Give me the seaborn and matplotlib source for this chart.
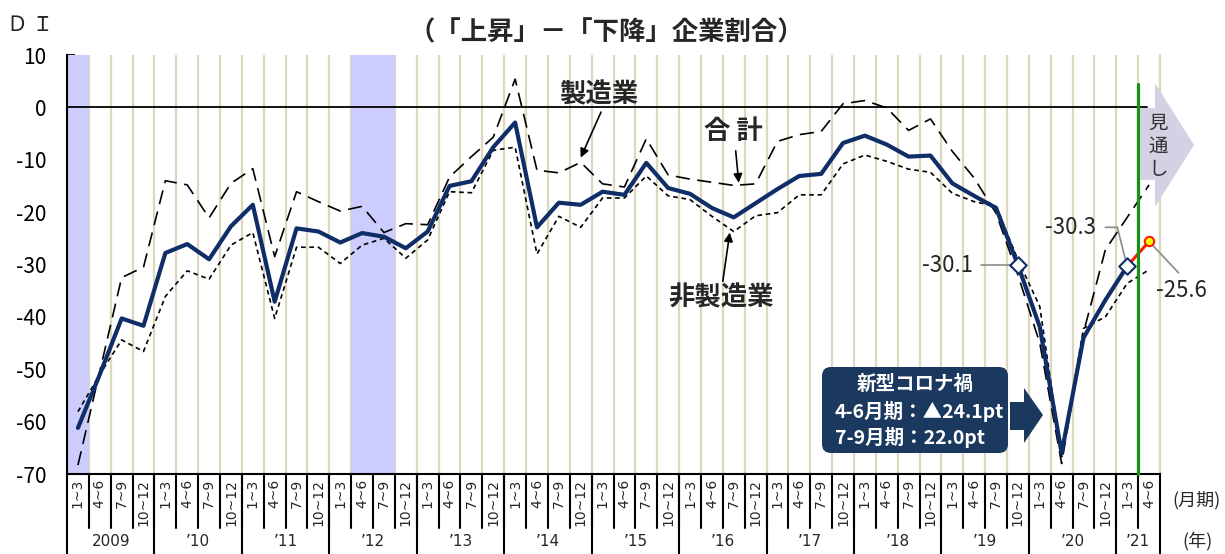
import numpy as np
import pandas as pd
import matplotlib
matplotlib.use("Agg")
import matplotlib.pyplot as plt
import seaborn as sns
from matplotlib.patches import FancyBboxPatch, Polygon
from matplotlib.transforms import IdentityTransform

# ---------------- data ----------------
years = ["2009", "’10", "’11", "’12", "’13", "’14", "’15", "’16", "’17", "’18", "’19", "’20", "’21"]
quarters = ["1~3", "4~6", "7~9", "10~12"]

total = [-61.2, -51.0, -40.3, -41.7, -27.8, -26.1, -29.0, -22.7, -18.6, -37.1,
         -23.1, -23.7, -25.8, -24.0, -24.7, -26.9, -23.7, -15.0, -14.1, -7.6,
         -2.9, -22.9, -18.2, -18.6, -16.1, -16.7, -10.6, -15.4, -16.5, -19.2,
         -21.0, -18.3, -15.6, -13.1, -12.7, -6.8, -5.4, -7.1, -9.4, -9.2,
         -14.5, -16.9, -19.2, -30.1, -41.9, -66.0, -44.0, -36.8, -30.3]
total_forecast = [-30.3, -25.6]

manufacturing = [-68.3, -50.4, -32.5, -30.5, -14.0, -14.8, -21.1, -14.5, -11.7, -28.5,
                 -16.1, -18.0, -19.8, -18.9, -23.9, -22.2, -22.4, -13.3, -9.4, -5.7,
                 5.4, -12.0, -12.5, -10.5, -14.6, -15.2, -6.0, -12.9, -13.7, -14.3,
                 -14.9, -14.6, -6.5, -5.2, -4.6, 0.7, 1.3, -0.1, -4.4, -2.2,
                 -8.4, -13.5, -20.2, -32.0, -45.0, -68.0, -43.0, -27.2, -21.0, -14.8]

non_manufacturing = [-58.1, -51.0, -44.4, -46.6, -36.1, -31.2, -32.8, -26.3, -23.9, -40.3,
                     -26.7, -26.7, -29.8, -26.3, -25.0, -28.8, -25.3, -16.1, -16.3, -8.2,
                     -7.6, -28.0, -20.8, -22.9, -17.3, -17.3, -13.1, -16.9, -17.6, -20.8,
                     -23.7, -20.7, -20.1, -16.7, -16.7, -10.8, -9.1, -10.3, -11.8, -12.4,
                     -16.4, -18.0, -18.9, -29.1, -38.0, -66.7, -42.2, -40.0, -33.6, -31.0]

recession_quarters = [0, 13, 14]
marked_quarters = [43, 48]

# ---------------- style ----------------
sns.set_theme(style="white")
plt.rcParams['font.family'] = ['Noto Sans CJK JP', 'DejaVu Sans']
plt.rcParams['axes.unicode_minus'] = False

W, H = 1225, 554
fig = plt.figure(figsize=(W / 100, H / 100), dpi=100)
ax = fig.add_axes([67 / W, 1 - 474 / H, (1160 - 67) / W, (474 - 55) / H])

n_q = len(years) * 4 - 2
qi = np.arange(n_q)
df = pd.DataFrame({"q": qi, "mfg": manufacturing, "nonmfg": non_manufacturing})
df_tot = pd.DataFrame({"q": qi[:len(total)], "total": total})
df_fc = pd.DataFrame({"q": qi[len(total) - 1:], "fc": total_forecast})

ax.set_xlim(-0.5, n_q - 0.5)
ax.set_ylim(-70, 10)

# background grid and recession shading
for b in np.arange(0.5, n_q, 1.0):
    ax.axvline(b, color="#dcd7bf", lw=1.6, zorder=0.5)
ax.axvline(n_q - 0.5, color="#dcd7bf", lw=1.6, zorder=0.5, clip_on=False)
for r in recession_quarters:
    ax.axvspan(r - 0.5, r + 0.5, color="#ccccff", lw=0, zorder=0.6)

# zero line
ax.plot([-0.5, n_q - 1.1], [0, 0], color="black", lw=1.3, zorder=1)

# series
sns.lineplot(data=df, x="q", y="nonmfg", ax=ax, color="black", lw=1.2,
             linestyle=(0, (2.8, 2.2)), zorder=3)
sns.lineplot(data=df, x="q", y="mfg", ax=ax, color="black", lw=1.2,
             linestyle=(0, (8.5, 4.5)), zorder=3)
sns.lineplot(data=df_tot, x="q", y="total", ax=ax, color="#0f2d66", lw=3.0, zorder=4)
sns.lineplot(data=df_fc, x="q", y="fc", ax=ax, color="#ff1a00", lw=2.2, zorder=4)

# markers
ax.scatter([marked_quarters[0], marked_quarters[1]],
           [total[marked_quarters[0]], total[marked_quarters[1]]],
           marker="D", s=70, facecolor="white", edgecolor="#0f2d66", lw=1.5, zorder=6)
ax.scatter([qi[-1]], [total_forecast[-1]], marker="o", s=45, facecolor="#ffff00",
           edgecolor="#ff1a00", lw=1.5, zorder=6)

# green line
ax.plot([n_q - 1.5, n_q - 1.5], [-70, 4.5], color="#159315", lw=2.3, zorder=5, clip_on=False)

# axes style
for s in ["top", "right"]:
    ax.spines[s].set_visible(False)
for s in ["left", "bottom"]:
    ax.spines[s].set_color("black")
    ax.spines[s].set_linewidth(1.5)
ax.set_xticks([])
yt = list(range(-70, 11, 10))
ax.set_yticks(yt)
ax.set_yticklabels([str(v) for v in yt])
ax.tick_params(axis="y", direction="in", length=6, width=1.3, labelsize=15, pad=15,
               colors="black", left=True)
ax.set_xlabel("")
ax.set_ylabel("")

# x category labels
xt = ax.get_xaxis_transform()
for i in range(n_q):
    ax.text(i, -0.012, quarters[i % 4], rotation=90, ha="center", va="top",
            fontsize=10, family="DejaVu Sans", transform=xt, clip_on=False)
for b in np.arange(0.5, n_q - 0.5, 1.0):
    ax.plot([b, b], [0, -0.13], color="black", lw=1.5, transform=xt, clip_on=False)
for b in np.arange(-0.5, n_q + 0.5, 4.0).tolist() + [n_q - 0.5]:
    ax.plot([b, b], [0, -0.2], color="black", lw=1.5, transform=xt, clip_on=False)
for k, y in enumerate(years):
    c = min(k * 4 + 1.5, (k * 4 + n_q - 1) / 2)
    ax.text(c, -0.161, y, ha="center", va="center", fontsize=11,
            family="DejaVu Sans", transform=xt, clip_on=False)
fig.text(1197 / W, 1 - 500 / H, "(月期)", ha="center", va="center", fontsize=13)
fig.text(1197 / W, 1 - 541 / H, "(年)", ha="center", va="center", fontsize=13)

# titles
fig.text(606 / W, 1 - 33 / H, "（「上昇」－「下降」企業割合）", ha="center", va="center",
         fontsize=19, fontweight="bold")
fig.text(30 / W, 1 - 25 / H, "Ｄ Ｉ", ha="center", va="center", fontsize=15)

# series labels with arrows
arrow = dict(arrowstyle="-|>", color="black", lw=1.2, mutation_scale=13, shrinkA=0, shrinkB=0)
ax.text(23.84, 2.4, "製造業", ha="center", va="center", fontsize=19, fontweight="bold", zorder=7)
ax.annotate("", xy=(23.0, -9.6), xytext=(23.93, -0.9), arrowprops=arrow)
ax.text(30.0, -4.7, "合 計", ha="center", va="center", fontsize=19, fontweight="bold", zorder=7)
ax.annotate("", xy=(30.23, -14.4), xytext=(30.09, -8.3), arrowprops=arrow)
ax.text(29.41, -36.4, "非製造業", ha="center", va="center", fontsize=19, fontweight="bold", zorder=7)
ax.annotate("", xy=(29.82, -23.9), xytext=(29.5, -33.2), arrowprops=arrow)

# value labels
grey = "#8a8a8a"
ax.text(39.8, -30.1, f"{total[43]:.1f}", ha="center", va="center",
        fontsize=16, zorder=7)
ax.plot([41.3, 42.75], [-30.1, -30.1], color=grey, lw=1.2, zorder=5)
ax.text(45.4, -23.0, f"{total[48]:.1f}", ha="center", va="center", fontsize=16, zorder=7)
ax.plot([47.0, 47.55, 47.98], [-22.9, -22.9, -30.1], color=grey, lw=1.2, zorder=5)
ax.text(50.5, -35.0, f"{total_forecast[-1]:.1f}", ha="center", va="center", fontsize=16,
        zorder=7, clip_on=False)
ax.plot([49.0, 50.35], [-25.6, -31.6], color=grey, lw=1.2, zorder=5, clip_on=False)

# 見通し arrow
ident = IdentityTransform()
def P(x, y):
    return (x, H - y)
fig.add_artist(Polygon([P(1140, 108), P(1155, 108), P(1155, 83), P(1194, 145),
                        P(1155, 207), P(1155, 180), P(1140, 180)], closed=True,
                       facecolor="#d6d0e4", edgecolor="none", transform=ident, zorder=0.2))
for j, ch in enumerate("見通し"):
    fig.text(1158 / W, 1 - (123 + j * 23) / H, ch, ha="center", va="center",
             fontsize=14, color="#333333", zorder=3)

# COVID box
navy = "#1b385f"
fig.add_artist(FancyBboxPatch(P(822, 453), 186, 86, boxstyle="round,pad=0,rounding_size=9",
                              facecolor=navy, edgecolor="none", transform=ident, zorder=8))
fig.add_artist(Polygon([P(1010, 402), P(1024, 402), P(1024, 388), P(1043, 415),
                        P(1024, 443), P(1024, 430), P(1010, 430)], closed=True,
                       facecolor=navy, edgecolor="none", transform=ident, zorder=8))
fig.text(915 / W, 1 - 384 / H, "新型コロナ禍", ha="center", va="center", fontsize=14,
         fontweight="bold", color="white", zorder=9)
fig.text(835 / W, 1 - 411 / H, "4-6月期：▲24.1pt", ha="left", va="center", fontsize=14,
         fontweight="bold", color="white", zorder=9)
fig.text(835 / W, 1 - 438 / H, "7-9月期：22.0pt", ha="left", va="center", fontsize=14,
         fontweight="bold", color="white", zorder=9)

fig.savefig("out.png", dpi=100)
